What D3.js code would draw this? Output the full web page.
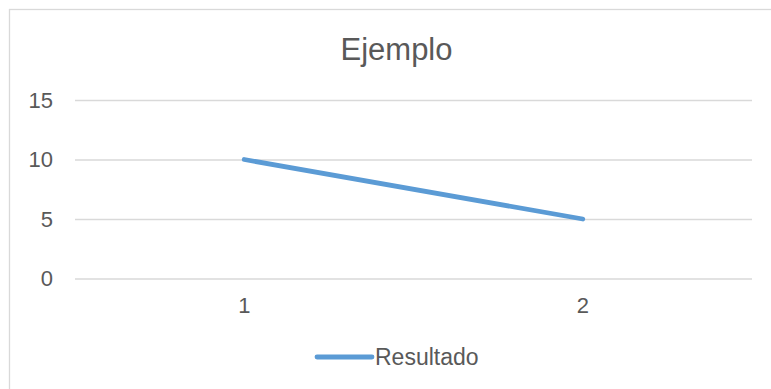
<!DOCTYPE html>
<html>
<head>
<meta charset="utf-8">
<script src="https://cdn.jsdelivr.net/npm/d3@7"></script>
<style>
  html, body { margin: 0; padding: 0; background: #fff; }
  svg { display: block; font-family: "Liberation Sans", Arial, sans-serif; }
</style>
</head>
<body>
<svg id="chart" width="771" height="389"></svg>
<script>
// Chart data
const categories = ["1", "2"];
const seriesName = "Resultado";
const values = [10, 5];
const yTicks = [0, 5, 10, 15];
const title = "Ejemplo";

const svg = d3.select("#chart");
const plot = { left: 75, right: 752, top: 100, bottom: 278.5 };
const textColor = "#595959";
const gridColor = "#d9d9d9";
const lineColor = "#5b9bd5";

// Outer chart frame
svg.append("rect")
  .attr("x", 9.5).attr("y", 9.5)
  .attr("width", 774).attr("height", 400)
  .attr("fill", "#fff")
  .attr("stroke", gridColor).attr("stroke-width", 1.3);

const x = d3.scaleBand().domain(categories).range([plot.left, plot.right]).padding(0);
const y = d3.scaleLinear().domain([0, 15]).range([plot.bottom, plot.top]);

// Horizontal gridlines + y labels
const yAxis = d3.axisLeft(y).tickValues(yTicks)
  .tickSize(-(plot.right - plot.left)).tickPadding(22);
const gy = svg.append("g").attr("transform", `translate(${plot.left},0)`).call(yAxis);
gy.select(".domain").remove();
gy.selectAll(".tick line").attr("stroke", gridColor).attr("stroke-width", 1.5);
gy.selectAll(".tick text")
  .attr("fill", textColor).style("font-size", "22px");

// Category labels
const xAxis = d3.axisBottom(x).tickSize(0).tickPadding(19);
const gx = svg.append("g").attr("transform", `translate(0,${plot.bottom})`).call(xAxis);
gx.select(".domain").remove();
gx.selectAll(".tick text").attr("fill", textColor).style("font-size", "22px");

// Series line
const line = d3.line()
  .x((d, i) => x(categories[i]) + x.bandwidth() / 2)
  .y(d => y(d));
svg.append("path")
  .datum(values)
  .attr("d", line)
  .attr("fill", "none")
  .attr("stroke", lineColor)
  .attr("stroke-width", 4.8)
  .attr("stroke-linecap", "round")
  .attr("stroke-linejoin", "round");

// Title
svg.append("text")
  .attr("x", 396.5).attr("y", 60)
  .attr("text-anchor", "middle")
  .attr("fill", textColor)
  .style("font-size", "31px")
  .text(title);

// Legend
const lg = svg.append("g");
lg.append("line")
  .attr("x1", 317).attr("x2", 372)
  .attr("y1", 357).attr("y2", 357)
  .attr("stroke", lineColor).attr("stroke-width", 4.8)
  .attr("stroke-linecap", "round");
lg.append("text")
  .attr("x", 375).attr("y", 365)
  .attr("fill", textColor)
  .style("font-size", "23px")
  .text(seriesName);
</script>
</body>
</html>
